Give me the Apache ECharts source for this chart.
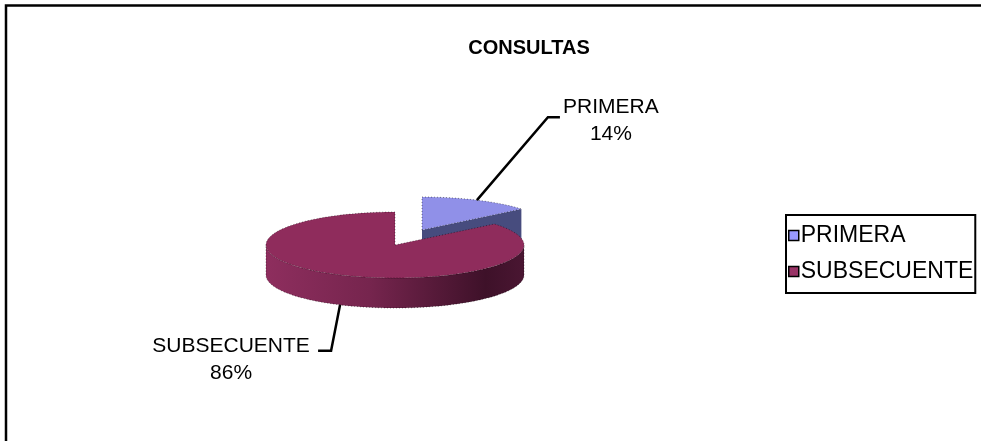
<!DOCTYPE html>
<html>
<head>
<meta charset="utf-8">
<script src="https://cdn.jsdelivr.net/npm/echarts@6/dist/echarts.min.js"></script>
<style>
  html, body { margin: 0; background: #fff; }
  #chart { width: 981px; height: 441px; }
</style>
</head>
<body>
<div id="chart"></div>
<script>
// datos
const categories = ['PRIMERA', 'SUBSECUENTE'];
const values = [14, 86];
const topColors = ['#9090e8', '#8f2c5c'];
const cutColors = ['#474c7e', '#5a1c3a'];
const legendColors = ['#9999ff', '#993366'];

// geometria del pastel (px)
const CX = 405, CY = 240, RX = 129, RY = 33, DEPTH = 30;
const explode = [[17, -10], [-10, 5]];
// desplazamiento de la linea guia: [dx codo, dy codo, tramo horizontal]
const leader = [[71, -83, 12], [-9, 46, -13]];
// posicion del texto respecto al final de la linea guia
const labelShift = [[51, 4], [-87, 9]];

const FONT = '"Liberation Sans", Arial, sans-serif';

const total = values.reduce((a, b) => a + b, 0);
let acc = 0;
const spans = values.map(v => {
  const s = acc;
  acc += v;
  return [s / total, acc / total];
});

const pt = (c, t, dy) => [c[0] + RX * Math.sin(t), c[1] - RY * Math.cos(t) + (dy || 0)];
const arc = (c, a, b, dy) => {
  const n = Math.max(2, Math.ceil((b - a) / 0.02));
  const out = [];
  for (let k = 0; k <= n; k++) out.push(pt(c, a + (b - a) * k / n, dy));
  return out;
};

const wallFill = [
  '#474c7e',
  new echarts.graphic.LinearGradient(0, 0, 1, 0, [
    { offset: 0, color: '#8e2e5e' },
    { offset: 0.4, color: '#76254e' },
    { offset: 0.85, color: '#3e1129' },
    { offset: 1, color: '#4a1632' }
  ])
];

const edge = { stroke: 'rgba(0,0,0,0.45)', lineWidth: 1, lineDash: [1, 2] };

function renderSlice(i) {
  return function (params, api) {
    const a = api.value(0) * Math.PI * 2;
    const b = api.value(1) * Math.PI * 2;
    const c = [CX + explode[i][0], CY + explode[i][1]];
    const kids = [];

    // pared exterior visible (mitad frontal)
    const wa = Math.max(a, Math.PI / 2), wb = Math.min(b, Math.PI * 1.5);
    if (wb > wa) {
      const pts = arc(c, wa, wb, 0).concat(arc(c, wa, wb, DEPTH).reverse());
      kids.push({ type: 'polygon', shape: { points: pts }, style: Object.assign({ fill: wallFill[i] }, edge) });
    }

    // caras de corte
    [[a, a - Math.PI / 2], [b, b + Math.PI / 2]].forEach(([t, f]) => {
      if (Math.cos(f) < -0.01) {
        const p1 = pt(c, t, 0), p2 = pt(c, t, DEPTH);
        kids.push({
          type: 'polygon',
          shape: { points: [c, p1, p2, [c[0], c[1] + DEPTH]] },
          style: { fill: cutColors[i] }
        });
      }
    });

    // cara superior
    kids.push({
      type: 'polygon',
      shape: { points: [c].concat(arc(c, a, b, 0)) },
      style: Object.assign({ fill: topColors[i] }, edge)
    });

    // linea guia + etiqueta
    const mid = (a + b) / 2;
    const anchor = Math.cos(mid) < 0 ? pt(c, mid, DEPTH) : pt(c, mid, 0);
    const elbow = [anchor[0] + leader[i][0], anchor[1] + leader[i][1]];
    const end = [elbow[0] + leader[i][2], elbow[1]];
    kids.push({
      type: 'polyline',
      shape: { points: [anchor, elbow, end] },
      style: { stroke: '#000', lineWidth: 2.5, fill: null }
    });
    const pct = Math.round(values[i] / total * 100) + '%';
    kids.push({
      type: 'text',
      x: end[0] + labelShift[i][0],
      y: end[1] + labelShift[i][1],
      style: {
        text: categories[i] + '\n' + pct,
        fill: '#000',
        font: '21px ' + FONT,
        lineHeight: 27,
        align: 'center',
        verticalAlign: 'middle'
      }
    });

    return { type: 'group', children: kids };
  };
}

const chart = echarts.init(document.getElementById('chart'));
chart.setOption({
  animation: false,
  title: {
    text: 'CONSULTAS',
    left: 524,
    top: 33,
    textAlign: 'center',
    textStyle: { fontFamily: FONT, fontSize: 20, fontWeight: 'bold', color: '#000' }
  },
  legend: {
    orient: 'vertical',
    left: 786,
    top: 215,
    padding: [9, 2, 10, 2],
    itemGap: 13,
    itemWidth: 10,
    itemHeight: 10,
    icon: 'rect',
    borderColor: '#000',
    borderWidth: 2,
    borderRadius: 0,
    itemStyle: { borderColor: '#000', borderWidth: 1.5 },
    textStyle: { fontFamily: FONT, fontSize: 23, color: '#000', padding: [0, 0, 0, -3] },
    data: categories
  },
  graphic: [{
    type: 'rect',
    shape: { x: 6, y: 5.5, width: 1100, height: 600 },
    style: { fill: null, stroke: '#000', lineWidth: 2.5 },
    z: 100
  }],
  series: categories.map((name, i) => ({
    type: 'custom',
    name: name,
    coordinateSystem: 'none',
    itemStyle: { color: legendColors[i] },
    data: [spans[i]],
    renderItem: renderSlice(i)
  }))
});
</script>
</body>
</html>
